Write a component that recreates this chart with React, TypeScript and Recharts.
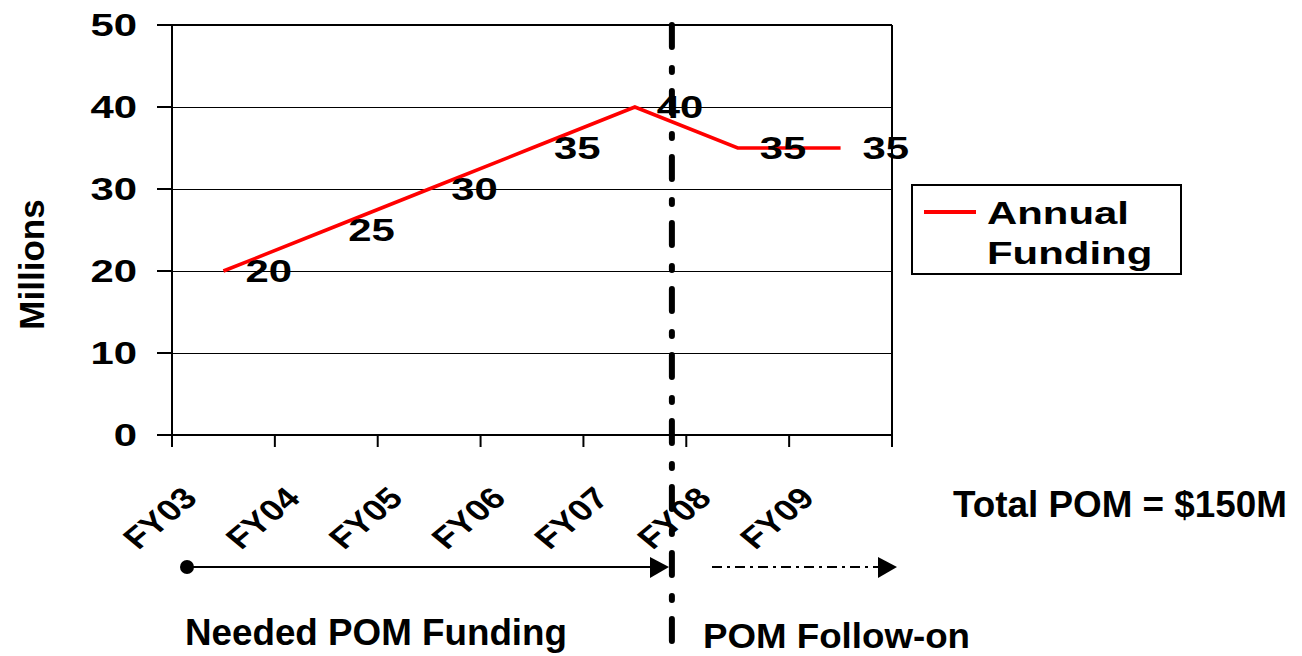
import { LineChart, Line, XAxis, YAxis, CartesianGrid, ReferenceLine, LabelList, Legend } from 'recharts'

const categories = ['FY03', 'FY04', 'FY05', 'FY06', 'FY07', 'FY08', 'FY09']
const funding = [20, 25, 30, 35, 40, 35, 35]
const yTicks = [0, 10, 20, 30, 40, 50]
const xTicks = [0, 1, 2, 3, 4, 5, 6, 7]
// where the needed / follow-on split sits, in category units
const splitAt = 4.86

const data = categories.map((name, i) => ({ x: i + 0.5, name, value: funding[i] }))

const FONT = '"Liberation Sans", Arial, sans-serif'
const STRETCH = 1.35

function YTick(props: any) {
  const { x, y, payload } = props
  return (
    <text
      transform={`translate(${x},${y}) scale(${STRETCH},1)`}
      textAnchor="end"
      dy="0.36em"
      fontFamily={FONT}
      fontWeight="bold"
      fontSize={31}
      fill="#000"
    >
      {payload.value}
    </text>
  )
}

function XTick(props: any) {
  const { x, y, payload } = props
  const label = categories[payload.value] ?? ''
  if (!label) return null
  return (
    <text
      transform={`translate(${x + 27},${y + 53}) scale(1.2,1) rotate(-45)`}
      textAnchor="end"
      fontFamily={FONT}
      fontWeight="bold"
      fontSize={30}
      fill="#000"
    >
      {label}
    </text>
  )
}

function ValueLabel(props: any) {
  const { x, y, value } = props
  return (
    <text
      transform={`translate(${x + 22},${y}) scale(${STRETCH},1)`}
      textAnchor="start"
      dy="0.36em"
      fontFamily={FONT}
      fontWeight="bold"
      fontSize={31}
      fill="#000"
    >
      {value}
    </text>
  )
}

function LegendBox() {
  return (
    <svg width={272} height={92}>
      <rect x={1} y={1} width={269} height={89} fill="#fff" stroke="#000" strokeWidth={2} />
      <line x1={13} y1={28} x2={65} y2={28} stroke="#ff0000" strokeWidth={4} />
      <g fontFamily={FONT} fontWeight="bold" fontSize={32} fill="#000">
        <text transform={`translate(76,40) scale(1.31,1)`}>Annual</text>
        <text transform={`translate(76,80) scale(1.31,1)`}>Funding</text>
      </g>
    </svg>
  )
}

export default function App() {
  return (
    <div style={{ position: 'absolute', left: 0, top: 0, width: 1302, height: 656, background: '#fff' }}>
      <LineChart
        width={1302}
        height={656}
        data={data}
        margin={{ top: 25, right: 410, bottom: 161, left: 0 }}
      >
        <CartesianGrid
          vertical={false}
          stroke="#000"
          strokeWidth={1}
          shapeRendering="crispEdges"
        />
        <XAxis
          dataKey="x"
          type="number"
          domain={[0, 7]}
          ticks={xTicks}
          interval={0}
          height={60}
          tickSize={12}
          tickMargin={0}
          tick={<XTick />}
          axisLine={{ stroke: '#000', strokeWidth: 2 }}
          tickLine={{ stroke: '#000', strokeWidth: 2 }}
        />
        <YAxis
          domain={[0, 50]}
          ticks={yTicks}
          width={172}
          tickSize={15}
          tickMargin={20}
          tick={<YTick />}
          axisLine={{ stroke: '#000', strokeWidth: 2 }}
          tickLine={{ stroke: '#000', strokeWidth: 2 }}
        />
        <ReferenceLine y={50} stroke="#000" strokeWidth={2} />
        <ReferenceLine x={7} stroke="#000" strokeWidth={2} />
        <Legend
          layout="horizontal"
          verticalAlign="middle"
          align="center"
          content={<LegendBox />}
          wrapperStyle={{ position: 'absolute', left: 911, top: 184, width: 272, height: 92 }}
        />
        <Line
          dataKey="value"
          name="Annual Funding"
          stroke="#ff0000"
          strokeWidth={3.5}
          dot={false}
          isAnimationActive={false}
        >
          <LabelList dataKey="value" content={<ValueLabel />} />
        </Line>
        <ReferenceLine
          segment={[
            { x: splitAt, y: 50 },
            { x: splitAt, y: -27 },
          ]}
          ifOverflow="visible"
          stroke="#000"
          strokeWidth={6}
          strokeLinecap="round"
          strokeDasharray="22 21 4 19"
        />
      </LineChart>

      <svg
        width={1302}
        height={656}
        style={{ position: 'absolute', left: 0, top: 0, pointerEvents: 'none' }}
      >
        <g fontFamily={FONT} fontWeight="bold" fill="#000">
          <text transform="translate(44,264.5) rotate(-90)" textAnchor="middle" fontSize={35}>
            Millions
          </text>
          <text x={953} y={517} fontSize={36} textLength={334} lengthAdjust="spacingAndGlyphs">
            Total POM = $150M
          </text>
          <text x={185} y={645} fontSize={36} textLength={382} lengthAdjust="spacingAndGlyphs">
            Needed POM Funding
          </text>
          <text x={703} y={648} fontSize={35} textLength={267} lengthAdjust="spacingAndGlyphs">
            POM Follow-on
          </text>
        </g>
        <circle cx={187} cy={567} r={7} fill="#000" />
        <line x1={187} y1={567} x2={652} y2={567} stroke="#000" strokeWidth={2} />
        <polygon points="650,557 669,567 650,578" fill="#000" />
        <line x1={712} y1={567} x2={880} y2={567} stroke="#000" strokeWidth={2} strokeDasharray="10 5 3 5" />
        <polygon points="878,557 897,567 878,578" fill="#000" />
      </svg>
    </div>
  )
}
